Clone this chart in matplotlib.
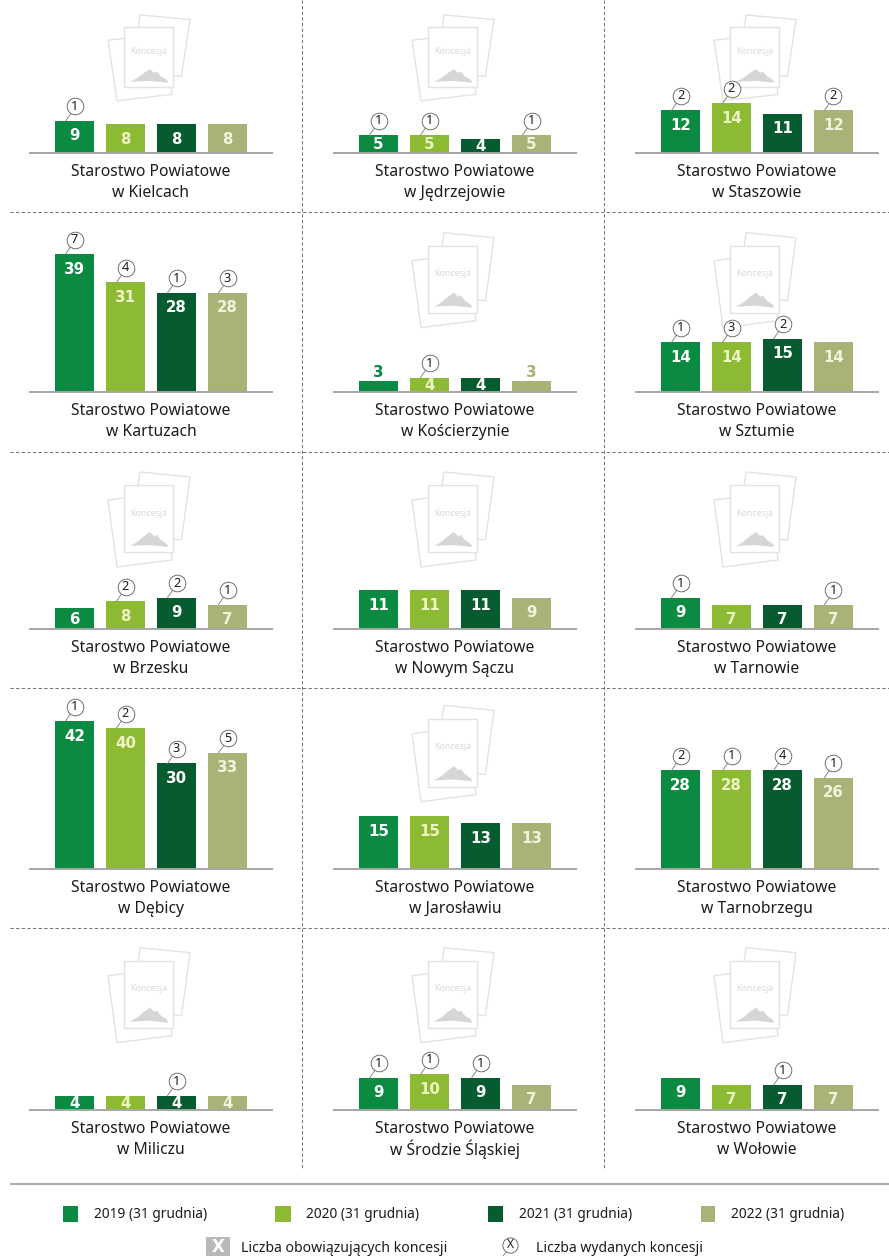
import matplotlib
matplotlib.use("Agg")
import matplotlib.pyplot as plt
from matplotlib.patches import Polygon, Rectangle

plt.rcParams['font.family'] = ['Noto Sans', 'DejaVu Sans']

W, H = 889, 1256
places = ["w Kielcach", "w Jędrzejowie", "w Staszowie",
          "w Kartuzach", "w Kościerzynie", "w Sztumie",
          "w Brzesku", "w Nowym Sączu", "w Tarnowie",
          "w Dębicy", "w Jarosławiu", "w Tarnobrzegu",
          "w Miliczu", "w Środzie Śląskiej", "w Wołowie"]
office = "Starostwo Powiatowe"
v2019 = [9, 5, 12, 39, 3, 14, 6, 11, 9, 42, 15, 28, 4, 9, 9]
v2020 = [8, 5, 14, 31, 4, 14, 8, 11, 7, 40, 15, 28, 4, 10, 7]
v2021 = [8, 4, 11, 28, 4, 15, 9, 11, 7, 30, 13, 28, 4, 9, 7]
v2022 = [8, 5, 12, 28, 3, 14, 7, 9, 7, 33, 13, 26, 4, 7, 7]
i2019 = [1, 1, 2, 7, 0, 1, 0, 0, 1, 1, 0, 2, 0, 1, 0]
i2020 = [0, 1, 2, 4, 1, 3, 2, 0, 0, 2, 0, 1, 0, 1, 0]
i2021 = [0, 0, 0, 1, 0, 2, 2, 0, 0, 3, 0, 4, 1, 1, 1]
i2022 = [0, 1, 2, 3, 0, 0, 1, 0, 1, 5, 0, 1, 0, 0, 0]
colors = ['#0b8a42', '#8dba33', '#065c2e', '#a9b277']
val_colors = ['#ffffff', '#eef4c4', '#ffffff', '#f2f3dc']
legend_labels = ["2019 (31 grudnia)", "2020 (31 grudnia)", "2021 (31 grudnia)", "2022 (31 grudnia)"]
note_labels = ["Liczba obowiązujących koncesji", "Liczba wydanych koncesji"]

baselines = [152.7, 391.7, 629.3, 869.3, 1109.7]
col_first = [74.5, 378.5, 680.5]
icon_top = [26.7, 245.7, 485, 718.5, 960.7]
icon_h = [60.5, 67, 67, 68, 67]
PX = 3.53      # pixels per unit
STEP = 51.0    # pixels between bars
TXT = '#1c1c1c'

fig = plt.figure(figsize=(W / 100, H / 100), dpi=100, facecolor='white')
bg = fig.add_axes([0, 0, 1, 1], zorder=0)
bg.set_xlim(0, W)
bg.set_ylim(H, 0)
bg.axis('off')

# frame lines
dash = dict(color='#777777', lw=0.75, dashes=(3.2, 2.2))
for y in [211.7, 452, 688, 928]:
    bg.plot([10, W], [y, y], **dash)
for x in [301.7, 603.7]:
    bg.plot([x, x], [0, 1170], **dash)
bg.plot([10, W], [1184, 1184], color='#aeaeae', lw=1.5, solid_capstyle='butt')


def icon(x0, y0, h):
    k = h / 67.0
    grey = '#e3e3e3'
    def poly(pts):
        bg.add_patch(Polygon([(x0 + a, y0 + b * k) for a, b in pts], closed=True,
                             fc='white', ec=grey, lw=1.0, joinstyle='round'))
    poly([(16, -13), (66, -8), (57.5, 55), (7.5, 50)])
    poly([(-16, 15), (39, 8), (48, 75), (-7, 82)])
    poly([(0, 0), (49, 0), (49, 67), (0, 67)])
    bg.text(x0 + 24.5, y0 + 28 * k, "Koncesja", ha='center', va='center', fontsize=6.3,
            color='#dadada')
    bg.add_patch(Polygon([(x0 + a, y0 + b * k) for a, b in
                          [(6, 61), (13, 57), (19, 52), (23, 49), (26, 47), (30, 51), (33, 50),
                           (37, 55), (43, 59), (44, 62), (25, 60)]],
                         closed=True, fc='#d6d6d6', ec='none'))


series = list(zip(v2019, v2020, v2021, v2022))
issued = list(zip(i2019, i2020, i2021, i2022))

for n, (place, vals, iss) in enumerate(zip(places, series, issued)):
    r, c = divmod(n, 3)
    base = baselines[r]
    first = col_first[c]
    if max(vals) < 20:
        icon(first + 49.5, icon_top[r], icon_h[r])
    ax_h = 165.0
    left = first - 44.5
    ax = fig.add_axes([left / W, 1 - base / H, 242.0 / W, ax_h / H], zorder=2)
    ax.patch.set_alpha(0)
    ax.set_xlim(-44.5 / STEP, 197.5 / STEP)
    ax.set_ylim(0, ax_h / PX)
    for s in ['top', 'left', 'right']:
        ax.spines[s].set_visible(False)
    ax.spines['bottom'].set_color('#a6a6a6')
    ax.spines['bottom'].set_linewidth(1.4)
    ax.set_xticks([])
    ax.set_yticks([])
    ax.bar(range(4), vals, width=39.0 / STEP, color=colors, linewidth=0, zorder=2)
    for i, (v, q) in enumerate(zip(vals, iss)):
        h = v * PX
        if v <= 3:
            y, col = v + 8.5 / PX, colors[i]
        elif h >= 24:
            y, col = v - 15 / PX, val_colors[i]
        else:
            y, col = v - (h / 2 + 1) / PX, val_colors[i]
        ax.text(i, y, str(v), ha='center', va='center', fontsize=10.8, fontweight='bold',
                family='DejaVu Sans', color=col, zorder=4, clip_on=False)
        if q:
            cy = v + 14.5 / PX
            ax.plot([i - 9 / STEP, i - 3 / STEP], [v, v + 8.5 / PX], color='#8a8a8a', lw=0.7,
                    zorder=3, clip_on=False)
            ax.plot([i], [cy], marker='o', ms=12, mfc='white', mec='#5a5a5a', mew=0.6,
                    zorder=3.5, clip_on=False)
            ax.text(i, cy, str(q), ha='center', va='center', fontsize=9.2, color=TXT,
                    zorder=4, clip_on=False)
    cx = 76.5 / STEP
    ax.text(cx, -19 / PX, office, ha='center', va='center', fontsize=11.3, color=TXT, clip_on=False)
    ax.text(cx, -40 / PX, place, ha='center', va='center', fontsize=11.3, color=TXT, clip_on=False)

# legend
for x0, x1, tx, lab, col in zip([63, 275, 487.5, 701], [78, 291, 503, 715],
                                [93.5, 306, 518.7, 731], legend_labels, colors):
    bg.add_patch(Rectangle((x0, 1206), x1 - x0, 15.5, fc=col, ec='none'))
    bg.text(tx, 1215, lab, ha='left', va='center', fontsize=9.9, color=TXT)
bg.add_patch(Rectangle((206, 1237), 24, 19, fc='#b9b9b9', ec='none'))
bg.text(218, 1246.5, "X", ha='center', va='center', fontsize=12, fontweight='bold',
        family='DejaVu Sans', color='white')
bg.text(241, 1249, note_labels[0], ha='left', va='center', fontsize=10.1, color=TXT)
bg.plot([503, 507], [1256, 1251], color='#8a8a8a', lw=0.7)
bg.plot([510], [1245], marker='o', ms=11, mfc='white', mec='#5a5a5a', mew=0.6)
bg.text(510, 1245, "X", ha='center', va='center', fontsize=8.5, color=TXT)
bg.text(536, 1249, note_labels[1], ha='left', va='center', fontsize=10.05, color=TXT)

fig.savefig("out.png", dpi=100, facecolor='white')
